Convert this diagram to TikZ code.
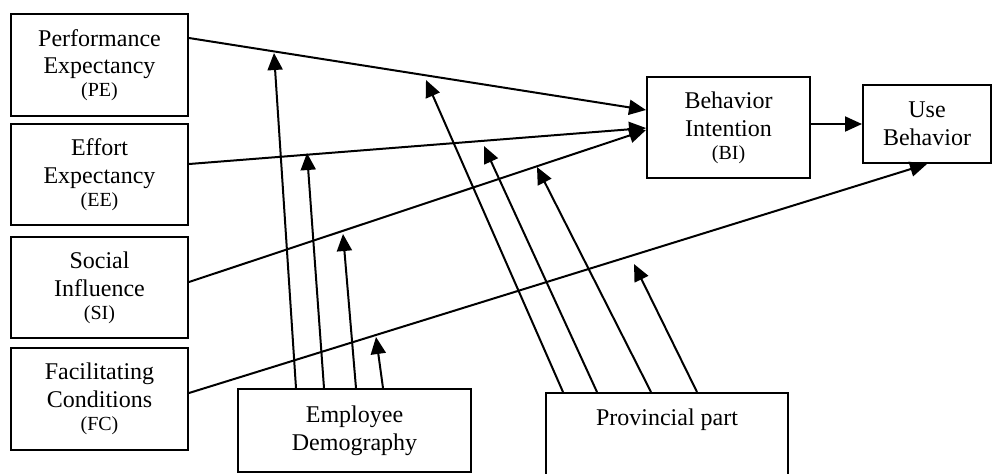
\documentclass[tikz,border=0pt]{standalone}
\usepackage{fontspec}
\setmainfont{Liberation Serif}
\usetikzlibrary{arrows.meta}
\newcommand{\abbr}[1]{{\fontsize{10}{11.5}\selectfont #1}}
\begin{document}
\begin{tikzpicture}[x=0.5pt,y=-0.5pt,
        box/.style={draw,line width=1pt,align=center,inner sep=0pt,
            font=\fontsize{12}{13.8}\selectfont},
        link/.style={line width=1pt,-{Triangle[length=8.5pt,width=7.5pt]}}]
    \clip (0,0) rectangle (992,473);
    %% constructs
    \node[box,minimum width=88.5pt,minimum height=51pt] (pe) at (99.5,65)
        {Performance\\Expectancy\\[-2.3pt]\abbr{(PE)}};
    \node[box,minimum width=88.5pt,minimum height=50.5pt] (ee) at (99.5,174.5)
        {Effort\\Expectancy\\[-2.3pt]\abbr{(EE)}};
    \node[box,minimum width=88.5pt,minimum height=50.5pt] (si) at (99.5,287.5)
        {Social\\Influence\\[-2.3pt]\abbr{(SI)}};
    \node[box,minimum width=88.5pt,minimum height=51pt] (fc) at (99.5,399)
        {Facilitating\\Conditions\\[-2.3pt]\abbr{(FC)}};
    \node[box,minimum width=81.5pt,minimum height=50.5pt] (bi) at (728.5,127.5)
        {Behavior\\Intention\\[-2.3pt]\abbr{(BI)}};
    \node[box,minimum width=64pt,minimum height=39pt] (ub) at (927,124)
        {Use\\Behavior};
    %% moderators
    \node[box,minimum width=116.5pt,minimum height=41.5pt] (ed) at (354.5,430.5)
        {Employee\\Demography};
    \node[box,minimum width=121pt,minimum height=70pt] (prov) at (667,463) {};
    \node[font=\fontsize{12}{13.8}\selectfont,inner sep=0pt] (provtxt) at (667,420) {Provincial part};
    %% main paths
    \draw[link] (pe.east |- 0,38) -- (bi.west |- 0,110);
    \draw[link] (ee.east |- 0,164) -- (bi.west |- 0,128);
    \draw[link] (si.east |- 0,282) -- (bi.west |- 0,130);
    \draw[link] (fc.east |- 0,393) -- (ub.south);
    \draw[link] (bi.east |- ub.west) -- (ub.west);
    %% demography arrows
    \coordinate (d1) at (274,53);
    \coordinate (d2) at (307,153);
    \coordinate (d3) at (343,234);
    \coordinate (d4) at (376,337);
    \draw[link] (ed.north -| 296,0) -- (d1);
    \draw[link] (ed.north -| 324,0) -- (d2);
    \draw[link] (ed.north -| 356,0) -- (d3);
    \draw[link] (ed.north -| 383,0) -- (d4);
    %% provincial arrows
    \coordinate (p1) at (426,80);
    \coordinate (p2) at (484,146);
    \coordinate (p3) at (537,167);
    \coordinate (p4) at (634,264);
    \draw[link] (prov.north -| 563,0) -- (p1);
    \draw[link] (prov.north -| 597,0) -- (p2);
    \draw[link] (prov.north -| 651,0) -- (p3);
    \draw[link] (prov.north -| 697,0) -- (p4);
\end{tikzpicture}
\end{document}
